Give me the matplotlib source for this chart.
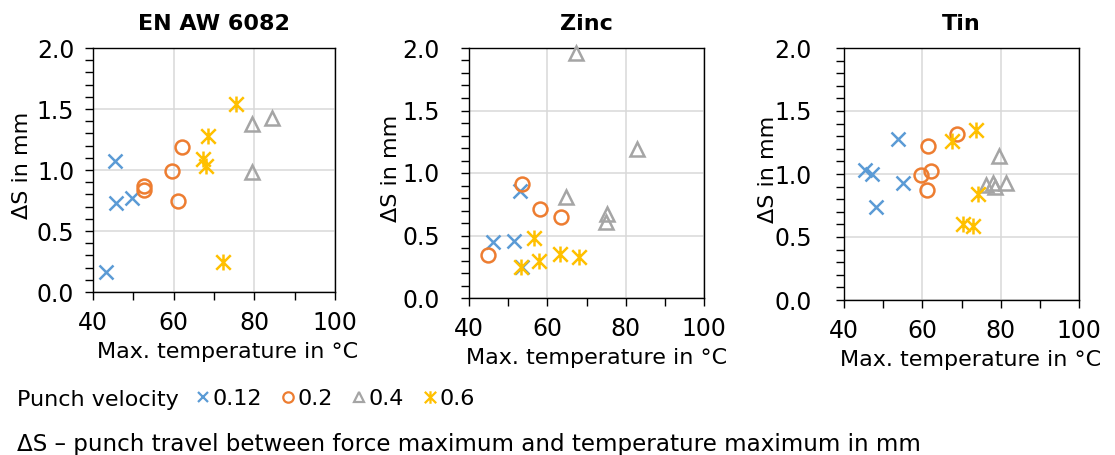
import numpy as np
import matplotlib
matplotlib.use("Agg")
import matplotlib.pyplot as plt
from matplotlib.path import Path
from matplotlib.lines import Line2D

plt.rcParams['font.family'] = ['DejaVu Sans']

# ---------------- data ----------------
panels = ["EN AW 6082", "Zinc", "Tin"]
velocities = ["0.12", "0.2", "0.4", "0.6"]

# EN AW 6082
al_012_x = [45.4, 45.6, 49.6, 43.3]
al_012_y = [1.07, 0.73, 0.77, 0.16]
al_02_x = [52.7, 52.6, 59.5, 62.1, 61.1]
al_02_y = [0.87, 0.84, 0.99, 1.19, 0.75]
al_04_x = [79.4, 84.5, 79.4]
al_04_y = [1.38, 1.43, 0.98]
al_06_x = [75.4, 68.5, 67.3, 68.0, 72.3]
al_06_y = [1.54, 1.28, 1.09, 1.03, 0.25]

# Zinc
zn_012_x = [46.0, 51.4, 53.1, 53.6]
zn_012_y = [0.45, 0.455, 0.86, 0.25]
zn_02_x = [44.9, 53.5, 58.0, 63.5]
zn_02_y = [0.345, 0.915, 0.71, 0.65]
zn_04_x = [67.3, 82.8, 64.7, 75.3, 75.0]
zn_04_y = [1.96, 1.19, 0.81, 0.67, 0.61]
zn_06_x = [56.5, 53.4, 57.8, 63.3, 68.1]
zn_06_y = [0.48, 0.25, 0.295, 0.355, 0.33]

# Tin
sn_012_x = [45.4, 47.1, 48.2, 53.9, 55.0]
sn_012_y = [1.03, 1.00, 0.74, 1.28, 0.93]
sn_02_x = [61.4, 59.7, 62.3, 61.3, 68.9]
sn_02_y = [1.22, 0.99, 1.02, 0.875, 1.315]
sn_04_x = [79.5, 76.2, 78.1, 78.5, 81.4]
sn_04_y = [1.145, 0.915, 0.925, 0.90, 0.93]
sn_06_x = [67.7, 73.7, 74.3, 70.3, 73.0]
sn_06_y = [1.26, 1.35, 0.84, 0.60, 0.59]

data = [
    [(al_012_x, al_012_y), (al_02_x, al_02_y), (al_04_x, al_04_y), (al_06_x, al_06_y)],
    [(zn_012_x, zn_012_y), (zn_02_x, zn_02_y), (zn_04_x, zn_04_y), (zn_06_x, zn_06_y)],
    [(sn_012_x, sn_012_y), (sn_02_x, sn_02_y), (sn_04_x, sn_04_y), (sn_06_x, sn_06_y)],
]

x_ticks = [40, 60, 80, 100]
y_ticks = [0.0, 0.5, 1.0, 1.5, 2.0]

# ---------------- styles ----------------
colors = ["#5B9BD5", "#ED7D31", "#A5A5A5", "#FFC000"]
star = Path([(-1, -1), (1, 1), (-1, 1), (1, -1), (0, -1.1), (0, 1.1)],
            [Path.MOVETO, Path.LINETO, Path.MOVETO, Path.LINETO, Path.MOVETO, Path.LINETO])
markers = ["x", "o", "^", star]
msizes = [10, 10, 10.5, 11.5]
FS = 16
TFS = 17

W, H = 1115, 455
fig = plt.figure(figsize=(W / 100, H / 100), dpi=100)

# axes boxes in pixels: left, right, top, bottom
boxes = [(93, 335, 48, 292), (469, 704, 48, 298), (844, 1079, 48, 300)]
ytick_pad = [7.5, 15, 17]
xlab_x = [0.554, 0.543, 0.540]
xlab_y = [-0.205, -0.20, -0.198]
ylab_x = [-0.295, -0.33, -0.325]

axes = []
for i, (l, r, t, b) in enumerate(boxes):
    ax = fig.add_axes([l / W, 1 - b / H, (r - l) / W, (b - t) / H])
    axes.append(ax)
    for j in range(4):
        xs, ys = data[i][j]
        ax.plot(xs, ys, linestyle="none", marker=markers[j], ms=msizes[j],
                mfc="none", mec=colors[j], mew=1.8, zorder=3, clip_on=False)
    ax.set_xlim(40, 100)
    ax.set_ylim(0, 2)
    ax.set_xticks(x_ticks)
    ax.set_xticks([50, 70, 90], minor=True)
    ax.set_yticks(y_ticks)
    ax.set_yticklabels([f"{v:.1f}" for v in y_ticks])
    ax.set_yticks(np.arange(0, 2.01, 0.1), minor=True)
    ax.grid(True, which="major", color="#D9D9D9", lw=1.1, zorder=0)
    ax.set_axisbelow(True)
    for s in ax.spines.values():
        s.set_color("black")
        s.set_linewidth(1.0)
    ax.tick_params(axis="both", which="major", length=6, width=1.0, color="black",
                   labelsize=TFS, direction="out")
    ax.tick_params(axis="both", which="minor", length=6, width=1.0, color="black",
                   direction="out")
    ax.tick_params(axis="x", which="major", pad=8)
    ax.tick_params(axis="y", which="major", pad=ytick_pad[i])
    ax.set_title(panels[i], fontsize=FS, fontweight="bold", pad=13)
    ax.set_xlabel("Max. temperature in °C", fontsize=FS)
    ax.set_ylabel("ΔS in mm", fontsize=FS)
    ax.xaxis.set_label_coords(xlab_x[i], xlab_y[i])
    ax.yaxis.set_label_coords(ylab_x[i], 0.52)
    ax.yaxis.label.set_verticalalignment("center")

# legend row
fig.text(17 / W, 1 - 406 / H, "Punch velocity", fontsize=FS, va="baseline", ha="left")
handles = [Line2D([], [], linestyle="none", marker=markers[j], ms=7.5 if j < 3 else 9,
                  mfc="none", mec=colors[j], mew=1.6) for j in range(4)]
fig.legend(handles, velocities, loc="center left", bbox_to_anchor=(196 / W, 1 - 399 / H),
           ncol=4, frameon=False, fontsize=FS, handlelength=0.6, handletextpad=0.15,
           columnspacing=0.85, borderpad=0, borderaxespad=0)

fig.text(17 / W, 1 - 451.5 / H,
         "ΔS – punch travel between force maximum and temperature maximum in mm",
         fontsize=16.6, va="baseline", ha="left")

fig.savefig("out.png", dpi=100)
